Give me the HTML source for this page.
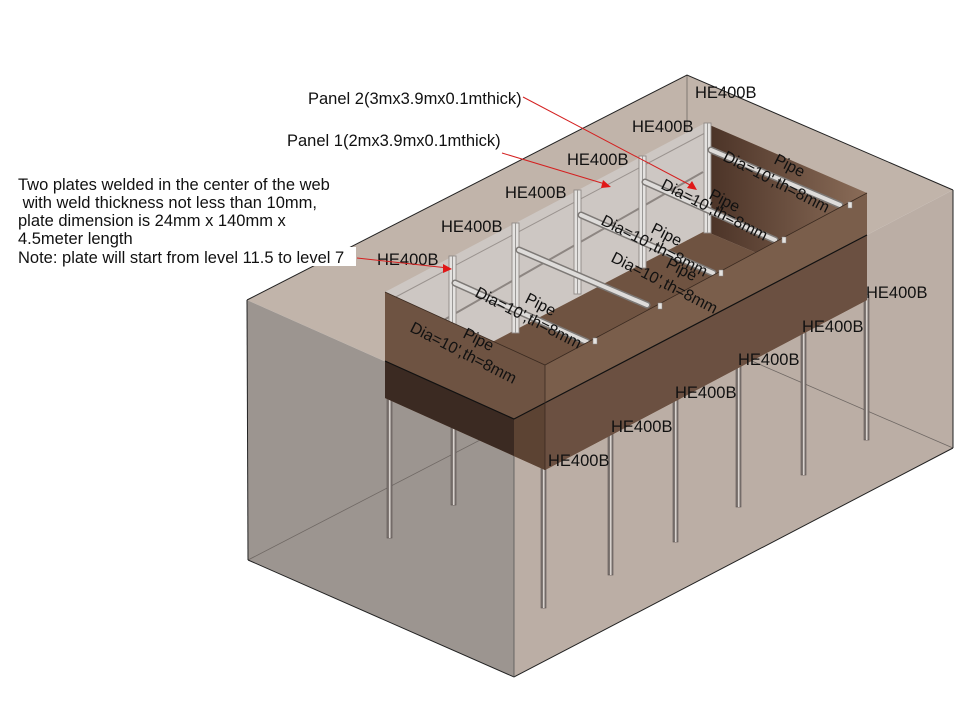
<!DOCTYPE html>
<html><head><meta charset="utf-8"><style>
html,body{margin:0;padding:0;background:#fff;}
svg{display:block;}
text{font-family:"Liberation Sans",Arial,sans-serif;fill:#111;}
</style></head><body>
<svg width="975" height="704" viewBox="0 0 975 704" xmlns="http://www.w3.org/2000/svg">
<defs>
<linearGradient id="bw" x1="0" y1="0" x2="1" y2="0">
<stop offset="0" stop-color="#4a3226"/><stop offset="1" stop-color="#8a6c58"/></linearGradient>
</defs>
<polygon points="247,300 687,75 953,190 514,419" fill="#c1b4aa"/>
<polygon points="247,300 514,419 514,677 248,560" fill="#9c9590"/>
<polygon points="514,419 953,190 953,448 514,677" fill="#bbaea5"/>
<g stroke="#6f6864" stroke-width="0.8" fill="none">
<line x1="248" y1="560" x2="687" y2="333"/>
<line x1="953" y1="448" x2="687" y2="333"/>
<line x1="687" y1="75" x2="687" y2="333"/>
</g>
<g fill="#7e7672" stroke="#5a5350" stroke-width="0.6">
<rect x="387" y="395" width="5" height="143"/>
<rect x="451" y="420" width="5" height="85"/>
<rect x="541" y="460" width="5" height="148"/>
<rect x="608" y="430" width="5" height="145"/>
<rect x="673" y="395" width="5" height="147"/>
<rect x="736" y="365" width="5" height="142"/>
<rect x="801" y="330" width="5" height="145"/>
<rect x="864" y="295" width="5" height="145"/>
</g>
<g fill="#d8d2ce">
<rect x="389" y="395" width="1.5" height="143"/><rect x="453" y="420" width="1.5" height="85"/>
<rect x="543" y="460" width="1.5" height="148"/><rect x="610" y="430" width="1.5" height="145"/>
<rect x="675" y="395" width="1.5" height="147"/><rect x="738" y="365" width="1.5" height="142"/>
<rect x="803" y="330" width="1.5" height="145"/><rect x="866" y="295" width="1.5" height="145"/>
</g>
<g stroke="#222" stroke-width="1" fill="none">
<polyline points="247,300 687,75 953,190"/>
<line x1="247" y1="300" x2="248" y2="560"/>
<line x1="953" y1="190" x2="953" y2="448"/>
<polyline points="248,560 514,677 953,448"/>
<line x1="514" y1="419" x2="514" y2="677" stroke="#555" stroke-width="0.8"/>
</g>
<polygon points="385,292 705,123 705,231 385,398" fill="#cdc7c3"/>
<polygon points="705,123 867,193 867,300 705,231" fill="url(#bw)"/>
<polygon points="385,398 705,231 867,300 545,470" fill="#6f5341"/>
<line x1="400" y1="345" x2="703" y2="172" stroke="#8d8682" stroke-width="2"/>
<line x1="390" y1="300" x2="705" y2="133" stroke="#9a938f" stroke-width="1"/>
<g fill="#e4e2e0" stroke="#8f8985" stroke-width="0.9">
<rect x="449" y="256" width="7" height="90"/>
<rect x="512" y="223" width="7" height="110"/>
<rect x="574" y="190" width="7" height="104"/>
<rect x="639" y="156" width="7" height="112"/>
<rect x="704" y="123" width="7" height="110"/>
</g>
<g stroke="#9a9896" stroke-width="1"><line x1="452.5" y1="256" x2="452.5" y2="346"/><line x1="515.5" y1="223" x2="515.5" y2="333"/><line x1="577.5" y1="190" x2="577.5" y2="294"/><line x1="642.5" y1="156" x2="642.5" y2="268"/><line x1="707.5" y1="123" x2="707.5" y2="233"/></g>
<g stroke="#7d7976" stroke-width="7" stroke-linecap="round">
<line x1="455" y1="283" x2="587" y2="342"/><line x1="519" y1="250" x2="647" y2="305"/>
<line x1="581" y1="215" x2="713" y2="273"/><line x1="645" y1="182" x2="775" y2="240"/>
<line x1="711" y1="150" x2="840" y2="205"/>
</g>
<g stroke="#dedcda" stroke-width="4" stroke-linecap="round">
<line x1="455" y1="283" x2="587" y2="342"/><line x1="519" y1="250" x2="647" y2="305"/>
<line x1="581" y1="215" x2="713" y2="273"/><line x1="645" y1="182" x2="775" y2="240"/>
<line x1="711" y1="150" x2="840" y2="205"/>
</g>
<polygon points="385,292 545,365 545,470 385,398" fill="#6e5342"/>
<polygon points="545,365 867,193 867,300 545,470" fill="#7a5e4b"/>
<polygon points="385,361 514,419 514,456 385,398" fill="#3b2a22"/>
<polygon points="514,419 545,403 545,470 514,456" fill="#5c4333"/>
<polygon points="545,403 867,235 867,300 545,470" fill="#6b5041"/>
<g stroke="#111" stroke-width="1.2" fill="none">
<polyline points="385,361 514,419 867,235"/>
</g>
<g stroke="#3a2a20" stroke-width="0.8" fill="none">
<polyline points="385,292 545,365 867,193"/>
<line x1="545" y1="365" x2="545" y2="470"/>
</g>
<g fill="#e6e3e0" stroke="#888" stroke-width="0.5">
<rect x="593" y="338" width="4" height="6"/><rect x="658" y="303" width="4" height="6"/>
<rect x="719" y="270" width="4" height="6"/><rect x="782" y="237" width="4" height="6"/>
<rect x="848" y="202" width="4" height="6"/>
</g>
<g font-size="16.5">
<text x="695" y="98">HE400B</text><text x="632" y="132">HE400B</text>
<text x="567" y="165">HE400B</text><text x="505" y="198">HE400B</text>
<text x="441" y="232">HE400B</text><text x="377" y="265">HE400B</text>
<text x="866" y="298">HE400B</text><text x="802" y="332">HE400B</text>
<text x="738" y="365">HE400B</text><text x="675" y="398">HE400B</text>
<text x="611" y="432">HE400B</text><text x="548" y="466">HE400B</text>
</g>
<g font-size="16">
<text transform="translate(773,163) rotate(27)">Pipe</text>
<text transform="translate(722,160) rotate(27)">Dia=10',th=8mm</text>
<text transform="translate(708,198) rotate(27)">Pipe</text>
<text transform="translate(660,188) rotate(27)">Dia=10',th=8mm</text>
<text transform="translate(650,232) rotate(27)">Pipe</text>
<text transform="translate(600,224) rotate(27)">Dia=10',th=8mm</text>
<text transform="translate(665,267) rotate(27)">Pipe</text>
<text transform="translate(610,261) rotate(27)">Dia=10',th=8mm</text>
<text transform="translate(524,302) rotate(27)">Pipe</text>
<text transform="translate(474,296) rotate(27)">Dia=10',th=8mm</text>
<text transform="translate(462,337) rotate(27)">Pipe</text>
<text transform="translate(409,331) rotate(27)">Dia=10',th=8mm</text>
</g>
<rect x="16" y="247" width="340" height="19" fill="#fff"/>
<g font-size="16.5">
<text x="308" y="104">Panel 2(3mx3.9mx0.1mthick)</text>
<text x="287" y="146">Panel 1(2mx3.9mx0.1mthick)</text>
<text x="18" y="190">Two plates welded in the center of the web</text>
<text x="18" y="208" xml:space="preserve"> with weld thickness not less than 10mm,</text>
<text x="18" y="226">plate dimension is 24mm x 140mm x</text>
<text x="18" y="244">4.5meter length</text>
<text x="18" y="263">Note: plate will start from level 11.5 to level 7</text>
</g>
<g stroke="#d42020" stroke-width="1" fill="none">
<line x1="523" y1="97" x2="692" y2="186"/>
<line x1="502" y1="153" x2="605" y2="184"/>
<line x1="357" y1="258" x2="448" y2="268"/>
</g>
<g fill="#e01818">
<polygon points="697,190 687,188 692,181"/>
<polygon points="611,187 601,188 603,180"/>
<polygon points="452,269 443,273 443,264"/>
</g>
</svg>
</body></html>
